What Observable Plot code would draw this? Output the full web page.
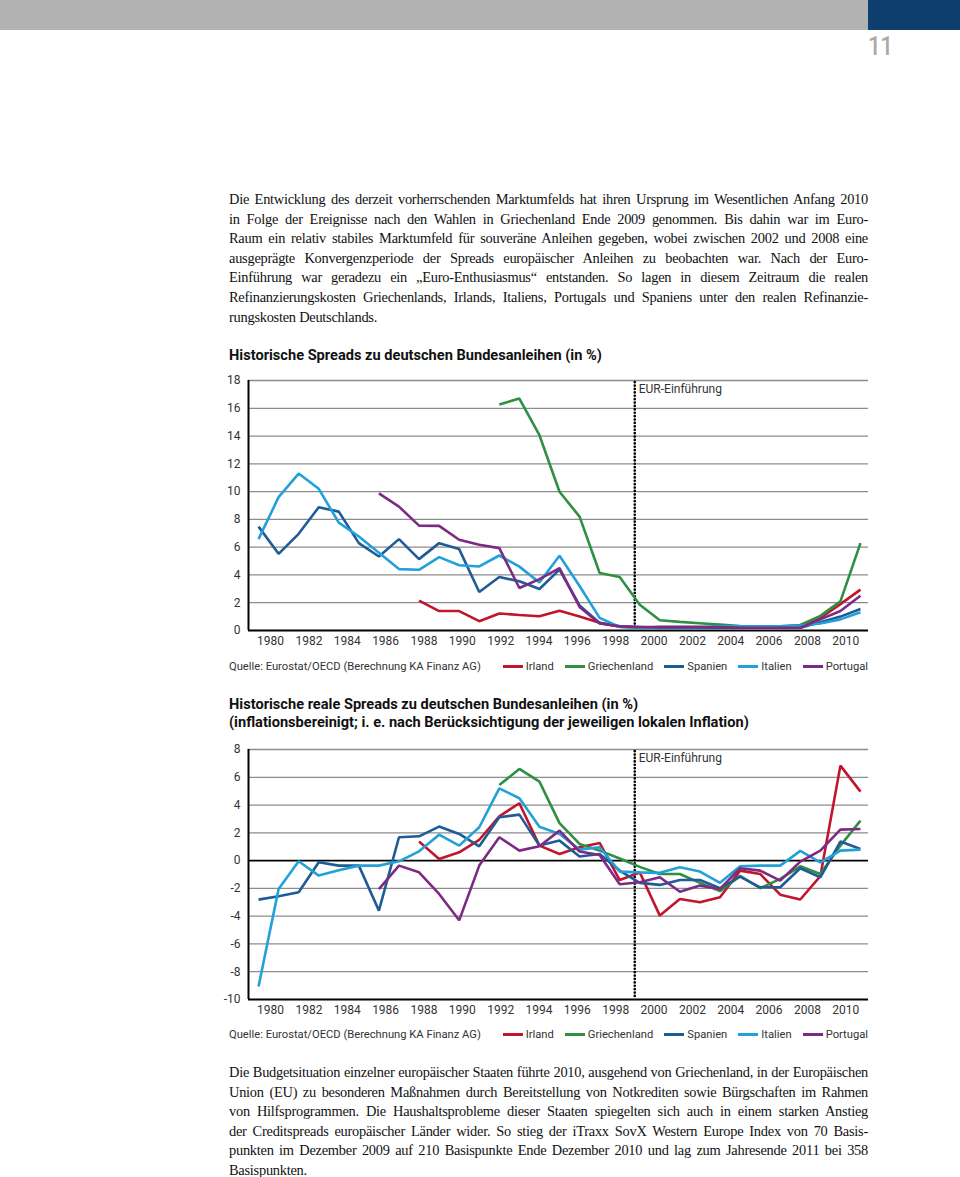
<!DOCTYPE html>
<html lang="de">
<head>
<meta charset="utf-8">
<script src="https://cdn.jsdelivr.net/npm/d3@7"></script>
<script src="https://cdn.jsdelivr.net/npm/@observablehq/plot@0.6"></script>
<style>
  html, body { margin: 0; padding: 0; background: #fff; }
  body { width: 960px; height: 1177px; position: relative; overflow: hidden; }
  .abs { position: absolute; }
  .topbar { left: 0; top: 0; width: 868px; height: 30px; background: #b1b2b1; }
  .bluebox { left: 868px; top: 0; width: 92px; height: 30px; background: #0f3f6f; }
  .pagenum { left: 868px; top: 32px; font-family: Roboto, sans-serif; font-weight: 500; font-size: 25px; color: #a9a9a9; letter-spacing: -0.5px; transform: scaleX(0.9); transform-origin: left top; }
  .para { left: 229px; width: 639px; font-family: "Liberation Serif", "Times New Roman", serif; font-size: 14.4px; letter-spacing: -0.25px; line-height: 19.6px; color: #111; }
  .para div { text-align: justify; text-align-last: justify; }
  .para div.last { text-align-last: left; }
  .ctitle { left: 229px; font-family: Roboto, sans-serif; font-weight: 700; font-size: 14.6px; line-height: 18px; color: #111; white-space: nowrap; }
  .legend { left: 229px; width: 639px; height: 16px; display: flex; justify-content: space-between; align-items: center; font-family: Roboto, sans-serif; font-size: 11.2px; color: #333; white-space: nowrap; }
  .legend .items { display: flex; gap: 11px; align-items: center; }
  .legend .item { display: flex; align-items: center; gap: 3px; }
  .legend .sw { width: 20px; height: 3px; display: inline-block; }
  .chart { left: 0; }
</style>
</head>
<body>
<div class="abs topbar"></div>
<div class="abs bluebox"></div>
<div class="abs pagenum">11</div>

<div class="abs para" style="top:190px">
  <div>Die Entwicklung des derzeit vorherrschenden Marktumfelds hat ihren Ursprung im Wesentlichen Anfang 2010</div>
  <div>in Folge der Ereignisse nach den Wahlen in Griechenland Ende 2009 genommen. Bis dahin war im Euro-</div>
  <div>Raum ein relativ stabiles Marktumfeld für souveräne Anleihen gegeben, wobei zwischen 2002 und 2008 eine</div>
  <div>ausgeprägte Konvergenzperiode der Spreads europäischer Anleihen zu beobachten war. Nach der Euro-</div>
  <div>Einführung war geradezu ein „Euro-Enthusiasmus“ entstanden. So lagen in diesem Zeitraum die realen</div>
  <div>Refinanzierungskosten Griechenlands, Irlands, Italiens, Portugals und Spaniens unter den realen Refinanzie-</div>
  <div class="last">rungskosten Deutschlands.</div>
</div>

<div class="abs ctitle" style="top:346px">Historische Spreads zu deutschen Bundesanleihen (in %)</div>
<div class="abs chart" id="chart1" style="top:370px"></div>
<div class="abs legend" id="legend1" style="top:658px"></div>

<div class="abs ctitle" style="top:695px">Historische reale Spreads zu deutschen Bundesanleihen (in %)<br>(inflationsbereinigt; i. e. nach Berücksichtigung der jeweiligen lokalen Inflation)</div>
<div class="abs chart" id="chart2" style="top:739px"></div>
<div class="abs legend" id="legend2" style="top:1026px"></div>

<div class="abs para" style="top:1063px">
  <div>Die Budgetsituation einzelner europäischer Staaten führte 2010, ausgehend von Griechenland, in der Europäischen</div>
  <div>Union (EU) zu besonderen Maßnahmen durch Bereitstellung von Notkrediten sowie Bürgschaften im Rahmen</div>
  <div>von Hilfsprogrammen. Die Haushaltsprobleme dieser Staaten spiegelten sich auch in einem starken Anstieg</div>
  <div>der Creditspreads europäischer Länder wider. So stieg der iTraxx SovX Western Europe Index von 70 Basis-</div>
  <div>punkten im Dezember 2009 auf 210 Basispunkte Ende Dezember 2010 und lag zum Jahresende 2011 bei 358</div>
  <div class="last">Basispunkten.</div>
</div>

<script>
// ---------- Data ----------
const countries = ["Irland", "Griechenland", "Spanien", "Italien", "Portugal"];
const countryColors = ["#c1152e", "#2f8f43", "#1f5c97", "#22a0d8", "#7c2a84"];
const startYears = [1988, 1992, 1980, 1980, 1986];

// Nominal spreads (in %)
const irlandNominal = [2.15, 1.4, 1.4, 0.67, 1.22, 1.12, 1.03, 1.43, 1.0, 0.55, 0.28, 0.2, 0.25, 0.25, 0.25, 0.2, 0.2, 0.2, 0.2, 0.2, 0.9, 1.9, 2.94];
const griechenlandNominal = [16.28, 16.7, 14.06, 9.99, 8.2, 4.14, 3.85, 1.86, 0.74, 0.62, 0.52, 0.42, 0.32, 0.3, 0.3, 0.4, 1.05, 2.1, 6.29];
const spanienNominal = [7.48, 5.52, 6.96, 8.87, 8.56, 6.29, 5.33, 6.58, 5.14, 6.29, 5.86, 2.77, 3.85, 3.54, 2.99, 4.38, 1.8, 0.55, 0.3, 0.25, 0.2, 0.2, 0.2, 0.2, 0.2, 0.2, 0.2, 0.2, 0.6, 1.0, 1.55];
const italienNominal = [6.58, 9.6, 11.3, 10.2, 7.77, 6.77, 5.6, 4.42, 4.37, 5.28, 4.7, 4.61, 5.4, 4.6, 3.45, 5.38, 3.2, 0.91, 0.26, 0.2, 0.25, 0.25, 0.25, 0.3, 0.3, 0.3, 0.3, 0.35, 0.5, 0.8, 1.31];
const portugalNominal = [9.87, 8.92, 7.55, 7.53, 6.53, 6.17, 5.93, 3.06, 3.7, 4.49, 1.7, 0.5, 0.3, 0.25, 0.25, 0.25, 0.25, 0.25, 0.2, 0.2, 0.2, 0.2, 0.8, 1.4, 2.5];

// Real spreads (in %)
const irlandReal = [1.37, 0.12, 0.6, 1.5, 3.19, 4.13, 1.08, 0.48, 0.96, 1.27, -1.4, -0.85, -3.96, -2.76, -3.0, -2.64, -0.72, -0.96, -2.45, -2.8, -1.12, 6.84, 4.97];
const griechenlandReal = [5.44, 6.6, 5.69, 2.7, 1.2, 0.72, 0.15, -0.45, -0.96, -0.96, -1.6, -2.2, -1.1, -1.99, -1.32, -0.41, -0.96, 1.08, 2.88];
const spanienReal = [-2.81, -2.57, -2.28, -0.12, -0.36, -0.36, -3.6, 1.68, 1.75, 2.45, 1.92, 1.03, 3.12, 3.31, 1.08, 1.44, 0.29, 0.48, -0.72, -1.6, -1.75, -1.4, -1.4, -1.99, -1.15, -1.92, -1.92, -0.55, -1.2, 1.37, 0.84];
const italienReal = [-9.07, -2.04, -0.05, -1.08, -0.7, -0.36, -0.36, -0.05, 0.67, 1.87, 1.08, 2.4, 5.2, 4.49, 2.44, 1.92, 0.79, 0.96, -0.79, -0.85, -0.88, -0.48, -0.79, -1.6, -0.41, -0.36, -0.36, 0.7, -0.12, 0.72, 0.79];
const portugalReal = [-2.05, -0.36, -0.84, -2.4, -4.3, -0.36, 1.68, 0.72, 1.03, 2.16, 0.65, 0.41, -1.7, -1.56, -1.2, -2.24, -1.8, -2.04, -0.55, -0.72, -1.44, -0.07, 0.72, 2.23, 2.28];

const xLabelYears = [1980, 1982, 1984, 1986, 1988, 1990, 1992, 1994, 1996, 1998, 2000, 2002, 2004, 2006, 2008, 2010];
const yTicks1 = [0, 2, 4, 6, 8, 10, 12, 14, 16, 18];
const yTicks2 = [-10, -8, -6, -4, -2, 0, 2, 4, 6, 8];
const euroYear = 1998.75;
const euroLabel = "EUR-Einführung";
const sourceText = "Quelle: Eurostat/OECD (Berechnung KA Finanz AG)";

// ---------- Build tables ----------
function toRows(seriesList) {
  const rows = [];
  seriesList.forEach((vals, k) => {
    vals.forEach((v, i) => rows.push({ country: countries[k], year: startYears[k] + i, value: v }));
  });
  return rows;
}
const nominalRows = toRows([irlandNominal, griechenlandNominal, spanienNominal, italienNominal, portugalNominal]);
const realRows = toRows([irlandReal, griechenlandReal, spanienReal, italienReal, portugalReal]);

// The printed year labels sit on a slightly narrower grid than the data points
const labelX = d => 1980.6 + (d - 1980) * 0.9556;

function makeChart(rows, yDomain, yTicks, zeroLines, gridLines) {
  const xDomain = [1979.5, 2010.4];
  return Plot.plot({
    width: 960,
    height: 283,
    marginLeft: 248,
    marginRight: 92,
    marginTop: 10,
    marginBottom: 23,
    style: { fontFamily: "Roboto, sans-serif", fontSize: "12px", color: "#333", background: "transparent", overflow: "visible" },
    x: { domain: xDomain, axis: null },
    y: { domain: yDomain, axis: null },
    color: { domain: countries, range: countryColors },
    marks: [
      Plot.ruleY(gridLines, { x1: xDomain[0], x2: xDomain[1], stroke: "#8c8c8c", strokeWidth: 1.3 }),
      Plot.ruleY(zeroLines, { x1: xDomain[0], x2: xDomain[1], stroke: "#000", strokeWidth: 1.8 }),
      Plot.ruleX([xDomain[0]], { y1: yDomain[0], y2: yDomain[1], stroke: "#000", strokeWidth: 2 }),
      Plot.ruleX([euroYear], { y1: yDomain[0], y2: yDomain[1], stroke: "#000", strokeWidth: 2.6, strokeDasharray: "0.1,3.3", strokeLinecap: "round", insetTop: -3 }),
      Plot.text([euroLabel], { x: euroYear, y: yDomain[1], text: d => d, textAnchor: "start", dx: 4, dy: 9, fill: "#333", fontSize: 12 }),
      Plot.text(yTicks, { x: xDomain[0], y: d => d, text: d => String(d), textAnchor: "end", dx: -8, fill: "#333", fontSize: 12 }),
      Plot.text(xLabelYears, { x: labelX, y: yDomain[0], text: d => String(d), dy: 11, fill: "#333", fontSize: 12 }),
      Plot.line(rows, { x: "year", y: "value", z: "country", stroke: "country", strokeWidth: 2.6, strokeLinejoin: "miter", strokeLinecap: "butt" })
    ]
  });
}

document.getElementById("chart1").append(
  makeChart(nominalRows, [0, 18], yTicks1, [0], yTicks1.filter(t => t !== 0))
);
document.getElementById("chart2").append(
  makeChart(realRows, [-10, 8], yTicks2, [0, -10], yTicks2.filter(t => t !== 0 && t !== -10))
);

function makeLegend(id) {
  const el = document.getElementById(id);
  const src = document.createElement("span");
  src.textContent = sourceText;
  el.append(src);
  const items = document.createElement("div");
  items.className = "items";
  countries.forEach((c, i) => {
    const it = document.createElement("span");
    it.className = "item";
    const sw = document.createElement("span");
    sw.className = "sw";
    sw.style.background = countryColors[i];
    const lb = document.createElement("span");
    lb.textContent = c;
    it.append(sw, lb);
    items.append(it);
  });
  el.append(items);
}
makeLegend("legend1");
makeLegend("legend2");
</script>
</body>
</html>
